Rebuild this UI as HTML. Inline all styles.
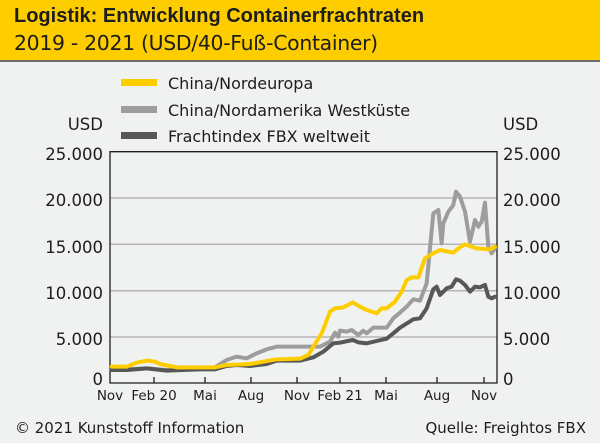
<!DOCTYPE html>
<html><head><meta charset="utf-8"><style>
html,body{margin:0;padding:0;}
body{width:600px;height:443px;background:#f0f2f1;position:relative;overflow:hidden;font-family:"DejaVu Sans","Liberation Sans",sans-serif;}
.hdr{position:absolute;left:0;top:0;width:600px;height:60px;background:#fdcd00;border-bottom:2px solid #6d6d6d;}
.t1{position:absolute;left:14px;top:5px;font-size:20px;font-weight:bold;color:#1d1d1b;font-family:"Liberation Sans",sans-serif;}
.t2{position:absolute;left:14px;top:31px;font-size:20.4px;color:#1d1d1b;letter-spacing:-0.3px;}
</style></head><body>
<div class="hdr"><div class="t1">Logistik: Entwicklung Containerfrachtraten</div><div class="t2">2019 - 2021 (USD/40-Fuß-Container)</div></div>
<svg width="600" height="443" style="position:absolute;left:0;top:0" font-family="DejaVu Sans, Liberation Sans, sans-serif" fill="#1d1d1b">
<g font-size="16">
<rect x="121" y="79" width="36" height="7" fill="#fdcd00"/><text x="168" y="89">China/Nordeuropa</text>
<rect x="121" y="106" width="36" height="7" fill="#9d9d9d"/><text x="168" y="116">China/Nordamerika Westküste</text>
<rect x="121" y="132" width="36" height="7" fill="#575756"/><text x="168" y="142">Frachtindex FBX weltweit</text>
</g>
<g font-size="16.5">
<text x="103" y="130" text-anchor="end">USD</text><text x="503" y="130">USD</text>
<g text-anchor="end">
<text x="103" y="160">25.000</text><text x="103" y="206">20.000</text><text x="103" y="253">15.000</text><text x="103" y="299">10.000</text><text x="103" y="345">5.000</text><text x="103" y="385">0</text>
</g>
<text x="503" y="160">25.000</text><text x="503" y="206">20.000</text><text x="503" y="253">15.000</text><text x="503" y="299">10.000</text><text x="503" y="345">5.000</text><text x="503" y="385">0</text>
<g text-anchor="middle" font-size="13.5">
<text x="110" y="400">Nov</text><text x="154" y="400">Feb 20</text><text x="205" y="400">Mai</text><text x="251" y="400">Aug</text><text x="297" y="400">Nov</text><text x="340" y="400">Feb 21</text><text x="386" y="400">Mai</text><text x="437" y="400">Aug</text><text x="484" y="400">Nov</text>
</g>
<text x="15" y="433" font-size="15">© 2021 Kunststoff Information</text>
<text x="586" y="433" text-anchor="end" font-size="15">Quelle: Freightos FBX</text>
</g>
<g stroke="#b4b4b4" stroke-width="1.5">
<line x1="110" y1="198" x2="497" y2="198"/><line x1="110" y1="244.3" x2="497" y2="244.3"/><line x1="110" y1="290.7" x2="497" y2="290.7"/><line x1="110" y1="337" x2="497" y2="337"/>
</g>
<g stroke="#1d1d1b" stroke-width="1.3" fill="none">
<path d="M110,151.7 H497 V383 H110 Z"/>
<path d="M154,383v-6M205,383v-6M251,383v-6M297,383v-6M340,383v-6M386,383v-6M437,383v-6M484,383v-6"/>
</g>
<g transform="translate(100,140) scale(0.33333)" fill="none" stroke-width="12" stroke-linejoin="round" stroke-linecap="round">
<polyline stroke="#9d9d9d" points="35,690 80,688 140,685 200,690 300,685 345,682 380,660 410,650 440,655 470,640 500,628 530,620 600,620 660,620 690,605 705,578 715,590 720,572 740,575 755,570 775,585 790,572 800,580 820,563 860,563 880,535 900,518 920,500 940,478 960,482 980,430 1000,220 1015,210 1025,310 1030,250 1045,215 1060,195 1068,155 1080,170 1095,215 1110,305 1125,240 1135,260 1145,245 1155,188 1165,320 1175,340 1185,325"/>
<polyline stroke="#575756" points="35,690 80,690 140,685 200,692 300,688 345,688 380,678 410,675 450,678 500,672 530,662 600,662 640,652 670,635 700,610 720,608 758,600 775,607 800,610 860,596 880,580 900,563 940,538 960,535 980,505 1000,448 1010,440 1020,465 1040,445 1055,440 1068,418 1080,422 1095,435 1110,455 1125,440 1140,442 1155,435 1165,470 1175,475 1185,470"/>
<polyline stroke="#fdcd00" points="35,680 80,680 110,668 140,662 165,665 180,672 230,682 300,682 345,682 380,675 450,672 530,658 600,656 625,645 645,612 665,580 690,515 705,505 730,502 758,487 780,500 800,510 830,520 845,505 860,505 885,485 905,455 920,420 935,412 955,412 975,355 1000,340 1020,330 1060,338 1075,325 1095,313 1115,320 1130,325 1170,328 1185,320"/>
</g>
</svg>
</body></html>
